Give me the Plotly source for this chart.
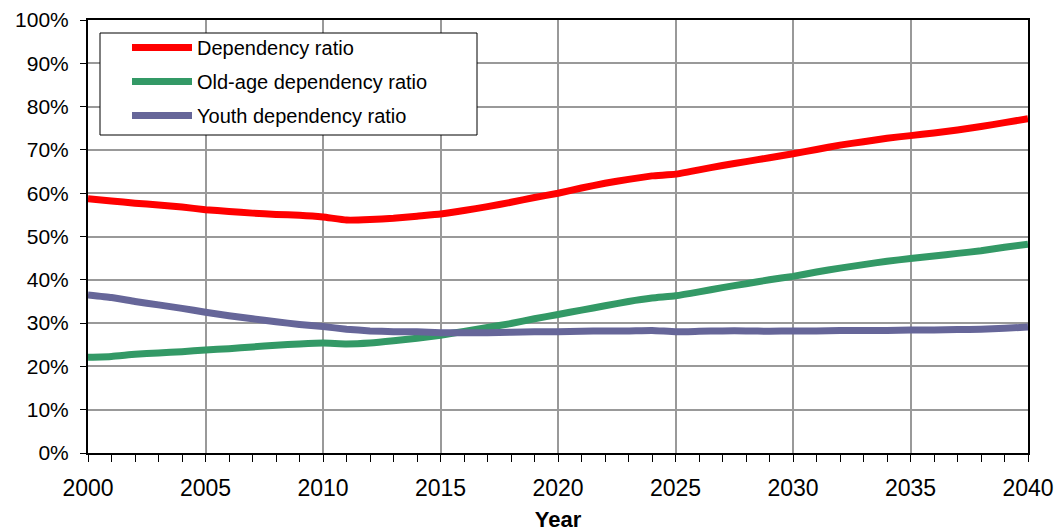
import plotly.graph_objects as go

years = list(range(2000, 2041))
dependency = [58.7, 58.2, 57.7, 57.3, 56.8, 56.2, 55.8, 55.4, 55.1, 54.9,
              54.5, 53.8, 53.9, 54.2, 54.7, 55.2, 56.0, 56.9, 57.9, 59.0,
              60.0, 61.2, 62.3, 63.2, 64.0, 64.4, 65.4, 66.4, 67.3, 68.2,
              69.1, 70.1, 71.1, 71.9, 72.7, 73.3, 73.9, 74.6, 75.4, 76.3, 77.2]
old_age = [22.1, 22.3, 22.8, 23.1, 23.4, 23.8, 24.1, 24.5, 24.9, 25.2,
           25.4, 25.2, 25.4, 25.9, 26.5, 27.2, 28.1, 29.0, 29.9, 31.0,
           32.0, 33.0, 34.0, 35.0, 35.8, 36.3, 37.2, 38.2, 39.1, 40.0,
           40.8, 41.8, 42.7, 43.5, 44.3, 44.9, 45.5, 46.1, 46.7, 47.5, 48.2]
youth = [36.5, 35.9, 35.0, 34.2, 33.4, 32.5, 31.7, 31.0, 30.3, 29.7,
         29.2, 28.6, 28.2, 28.0, 28.0, 27.8, 27.8, 27.8, 27.9, 28.0,
         28.0, 28.1, 28.2, 28.2, 28.3, 28.0, 28.1, 28.2, 28.2, 28.1,
         28.2, 28.2, 28.3, 28.3, 28.3, 28.4, 28.4, 28.5, 28.6, 28.8, 29.1]

series = [
    ("Dependency ratio", dependency, "#FF0000"),
    ("Old-age dependency ratio", old_age, "#339966"),
    ("Youth dependency ratio", youth, "#666699"),
]

fig = go.Figure()
for i, (name, vals, color) in enumerate(series):
    fig.add_trace(go.Scatter(
        x=years, y=[v / 100 for v in vals], name=name, mode="lines",
        legendgroup=f"g{i}",
        line=dict(color=color, width=7, shape="spline", smoothing=0.4),
    ))

font_family = "Liberation Sans, Arial, sans-serif"

# legend frame (plot area spans x 88..1028, y 20..453 px)
fig.add_shape(type="rect", xref="paper", yref="paper",
              x0=(100 - 88) / 940, x1=(477 - 88) / 940,
              y0=(453 - 135) / 433, y1=(453 - 33) / 433,
              line=dict(color="black", width=1), fillcolor="white", layer="above")

fig.update_layout(
    width=1057, height=532,
    margin=dict(l=88, r=29, t=20, b=79, autoexpand=False),
    paper_bgcolor="white", plot_bgcolor="white",
    font=dict(family=font_family, size=21, color="black"),
    showlegend=True,
    legend=dict(
        x=(127 - 88) / 940, y=(453 - 28) / 433, xanchor="left", yanchor="top",
        bgcolor="rgba(0,0,0,0)", borderwidth=0,
        font=dict(size=20, family=font_family),
        tracegroupgap=5, itemwidth=60,
    ),
    xaxis=dict(
        range=[2000, 2040], dtick=5, tick0=2000,
        showgrid=True, gridcolor="#999999", gridwidth=2,
        showline=True, linecolor="black", linewidth=2, mirror=True,
        ticks="outside", ticklen=7, tickcolor="black", tickwidth=1,
        minor=dict(dtick=1, ticks="outside", ticklen=7, tickcolor="black", showgrid=False),
        tickfont=dict(size=23), ticklabelstandoff=6,
        title=dict(text="<b>Year</b>", font=dict(size=22), standoff=14),
        zeroline=False,
    ),
    yaxis=dict(
        range=[0, 1], dtick=0.1, tickformat=".0%",
        showgrid=True, gridcolor="#999999", gridwidth=2,
        showline=True, linecolor="black", linewidth=2, mirror=True,
        ticks="outside", ticklen=6, tickcolor="black", tickwidth=1,
        tickfont=dict(size=21), ticklabelstandoff=7,
        zeroline=False,
    ),
)

fig.write_html("out.html", config={"displayModeBar": False},
               post_script="document.body.style.margin='0';")
